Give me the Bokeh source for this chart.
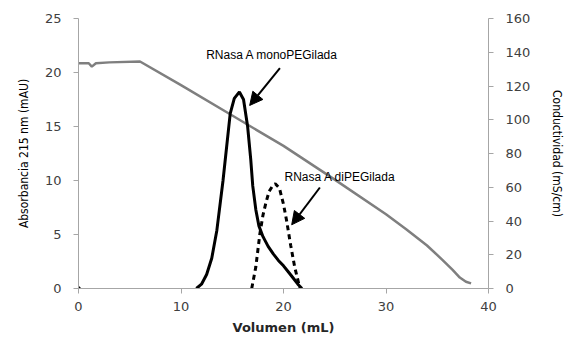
from bokeh.plotting import figure
from bokeh.models import (Range1d, LinearAxis, FixedTicker, Label, Arrow, NormalHead)
from bokeh.embed import file_html
from bokeh.resources import INLINE

# ---- data ----
x_ticks = [0, 10, 20, 30, 40]
abs_ticks = [0, 5, 10, 15, 20, 25]
cond_ticks = [0, 20, 40, 60, 80, 100, 120, 140, 160]

# Conductivity (mS/cm), right axis
cond_x = [0, 1.0, 1.3, 1.7, 3.0, 6.0, 10, 15, 20, 25, 30, 32, 34, 35.5, 36.5, 37.2, 37.8, 38.3]
cond_y = [133.5, 133.5, 131.5, 133.5, 134.0, 134.5, 120.5, 102.5, 84.5, 64.5, 44.0, 35.0, 25.5, 17.0, 11.0, 6.5, 4.0, 3.0]

# RNasa A monoPEGilada (mAU)
mono_x = [11.5, 12.0, 12.5, 13.0, 13.5, 14.1, 14.8, 15.2, 15.7, 16.1, 16.5, 16.8, 17.0, 17.3, 17.6, 18.0, 18.5, 19.0, 19.5, 20.0, 20.5, 21.0, 21.4, 21.8]
mono_y = [0.0, 0.4, 1.3, 2.8, 5.4, 10.0, 16.2, 17.6, 18.2, 17.5, 15.0, 12.0, 9.5, 7.3, 5.8, 4.8, 3.9, 3.2, 2.6, 2.1, 1.5, 0.9, 0.4, 0.0]
mono_start_x = [0]
mono_start_y = [0]

# RNasa A diPEGilada (mAU)
di_x = [16.9, 17.3, 17.7, 18.0, 18.3, 18.6, 19.0, 19.2, 19.6, 20.0, 20.3, 20.7, 21.1, 21.4, 21.6]
di_y = [0.0, 2.0, 5.1, 6.8, 8.0, 9.0, 9.6, 9.7, 9.3, 7.8, 6.3, 4.0, 1.95, 0.8, 0.0]

labels = ["RNasa A monoPEGilada", "RNasa A diPEGilada"]

# ---- figure ----
p = figure(frame_width=410, frame_height=270, output_backend="svg", toolbar_location=None,
           x_range=Range1d(0, 40), y_range=Range1d(0, 25),
           min_border_left=78, min_border_right=72, min_border_top=18, min_border_bottom=48)
p.outline_line_color = None
p.xgrid.visible = False
p.ygrid.visible = False
p.background_fill_color = "white"
p.border_fill_color = "white"

p.extra_y_ranges = {"cond": Range1d(0, 160)}
raxis = LinearAxis(y_range_name="cond")
p.add_layout(raxis, "right")

tick_font = "DejaVu Sans"
axis_col = "#A6A6A6"
lab_col = "#404040"

for ax in [p.xaxis[0], p.yaxis[0], raxis]:
    ax.axis_line_color = axis_col
    ax.major_tick_line_color = axis_col
    ax.minor_tick_line_color = None
    ax.major_tick_in = 0
    ax.major_tick_out = 5
    ax.major_label_text_font = tick_font
    ax.major_label_text_font_size = "13px"
    ax.major_label_text_color = lab_col

p.xaxis[0].ticker = FixedTicker(ticks=x_ticks)
p.yaxis[0].ticker = FixedTicker(ticks=abs_ticks)
raxis.ticker = FixedTicker(ticks=cond_ticks)

p.xaxis[0].major_label_standoff = 8
p.yaxis[0].major_label_standoff = 12
raxis.major_label_standoff = 12

p.xaxis[0].axis_label = "Volumen (mL)"
p.xaxis[0].axis_label_text_font = "DejaVu Sans"
p.xaxis[0].axis_label_text_font_style = "bold"
p.xaxis[0].axis_label_text_font_size = "13px"
p.xaxis[0].axis_label_text_color = "#262626"
p.xaxis[0].axis_label_standoff = 6

narrow = "DejaVu Sans Condensed"
p.yaxis[0].axis_label = "Absorbancia 215 nm (mAU)"
p.yaxis[0].axis_label_text_font = narrow
p.yaxis[0].axis_label_text_font_style = "normal"
p.yaxis[0].axis_label_text_font_size = "12px"
p.yaxis[0].axis_label_text_color = "#000000"
p.yaxis[0].axis_label_standoff = 11

raxis.axis_label = "Conductividad (mS/cm)"
raxis.axis_label_text_font = narrow
raxis.axis_label_text_font_style = "normal"
raxis.axis_label_text_font_size = "12px"
raxis.axis_label_text_color = "#000000"
raxis.axis_label_standoff = 17

# ---- series ----
p.line(cond_x, cond_y, y_range_name="cond", line_color="#7F7F7F", line_width=2.5)
p.line(mono_x, mono_y, line_color="black", line_width=3)
p.line(di_x, di_y, line_color="black", line_width=3, line_dash="5 4")
p.scatter(mono_start_x, mono_start_y, size=3, color="black", marker="square")

# ---- annotations ----
ann_font = "Liberation Sans"
p.add_layout(Label(x=18.9, y=21.6, text=labels[0], text_font=ann_font, text_font_size="12px",
                   text_align="center", text_baseline="middle", text_color="black"))
p.add_layout(Label(x=20.1, y=10.3, text=labels[1], text_font=ann_font, text_font_size="12px",
                   text_align="left", text_baseline="middle", text_color="black"))

head1 = NormalHead(size=13, fill_color="black", line_color="black")
head2 = NormalHead(size=13, fill_color="black", line_color="black")
p.add_layout(Arrow(end=head1, x_start=19.65, y_start=20.4, x_end=16.7, y_end=16.95,
                   line_width=2, line_color="black"))
p.add_layout(Arrow(end=head2, x_start=23.55, y_start=9.35, x_end=20.8, y_end=5.9,
                   line_width=2, line_color="black"))

open("out.html", "w").write(file_html(p, INLINE))
